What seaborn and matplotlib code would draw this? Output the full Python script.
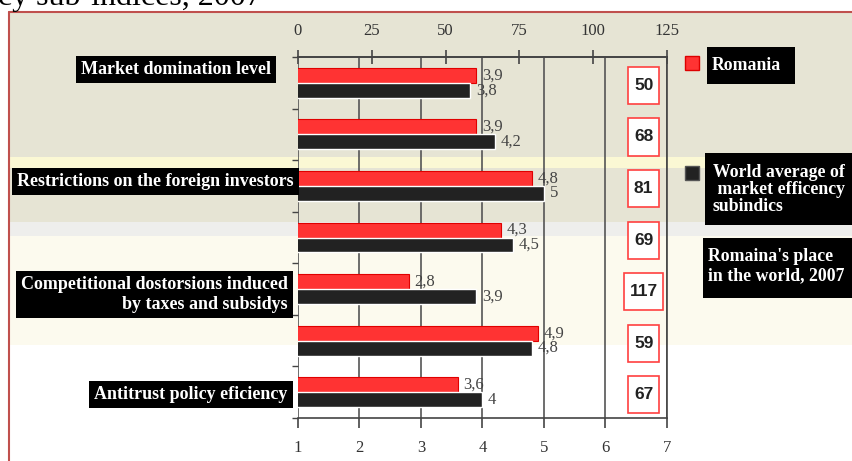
import matplotlib.pyplot as plt
import matplotlib.patches as mpatches
import matplotlib.transforms as mtransforms
import numpy as np
import pandas as pd
import seaborn as sns

W, H = 853, 461

# data
indicators = [
    "Market domination level",
    None,
    "Restrictions on the foreign investors",
    None,
    "Competitional dostorsions induced\nby taxes and subsidys",
    None,
    "Antitrust policy eficiency",
]
romania = [3.9, 3.9, 4.8, 4.3, 2.8, 4.9, 3.6]
world = [3.8, 4.2, 5.0, 4.5, 3.9, 4.8, 4.0]
ranks = [50, 68, 81, 69, 117, 59, 67]
bottom_ticks = [1, 2, 3, 4, 5, 6, 7]
top_ticks = [0, 25, 50, 75, 100, 125]
legend_labels = ["Romania", "World average of\n market efficency\nsubindics",
                 "Romaina's place\nin the world, 2007"]

RED = "#ff3333"
BLACK = "#222222"
AXC = "#444444"

df = pd.DataFrame({
    "row": list(range(len(romania))) * 2,
    "series": ["Romania"] * len(romania) + ["World"] * len(world),
    "value": romania + world,
})

sns.set_theme(style="white")
plt.rcParams["font.family"] = ["Liberation Serif", "DejaVu Serif"]

fig = plt.figure(figsize=(W / 100, H / 100), dpi=100)

# background bands + frame, drawn in pixel coordinates
bg = fig.add_axes([0, 0, 1, 1], zorder=-10)
bg.set_xlim(0, W)
bg.set_ylim(H, 0)
bg.axis("off")
bands = [(0, 12, "#ffffff"), (12, 157, "#e6e4d4"), (157, 168, "#fbf8d4"),
         (168, 222, "#e6e4d4"), (222, 236, "#eeeeec"), (236, 345, "#fcfaee"),
         (345, H, "#ffffff")]
for y0, y1, c in bands:
    bg.axhspan(y0, y1, color=c, lw=0)
bg.axvspan(0, 9, color="white", lw=0)
bg.plot([9, 9], [12, H], color="#c0504d", lw=1.5)
bg.plot([9, W], [12, 12], color="#c0504d", lw=1.5)
# title, cut by the top edge as in the source screenshot
bg.text(262, 5, "Market efficiency sub-indices, 2007", ha="right", va="baseline",
        fontsize=23, color="black")

# main plot
ax = fig.add_axes([298 / W, 43 / H, 369 / W, 361 / H])
ax.patch.set_alpha(0)
sns.barplot(data=df, x="value", y="row", hue="series", orient="h",
            palette=[RED, BLACK], width=0.58, saturation=1, legend=False, ax=ax)
ax.set_xlim(1, 7)
ax.set_ylim(len(romania) - 0.5, -0.5)

for bar in ax.containers[0]:
    bar.set_edgecolor("#e00000")
    bar.set_linewidth(0.8)

for cont, vals in zip(ax.containers, [romania, world]):
    ax.bar_label(cont, labels=[f"{v:g}".replace(".", ",") for v in vals],
                 padding=4, fontsize=12, color=AXC)

ax.set_xticks(bottom_ticks)
ax.set_yticks(np.arange(-0.5, len(romania), 1))
ax.set_yticklabels([])
ax.set_xlabel("")
ax.set_ylabel("")
ax.grid(axis="x", color="#555555", lw=1.2)
ax.grid(axis="y", visible=False)
ax.set_axisbelow(True)
ax.spines["left"].set_visible(False)
for s in ["top", "bottom", "right"]:
    ax.spines[s].set_color(AXC)
    ax.spines[s].set_linewidth(1.2)
ax.tick_params(axis="x", direction="out", length=7, width=1.2, color=AXC,
               labelsize=12, labelcolor="#333333", pad=9, bottom=True)
ax.tick_params(axis="y", direction="out", length=4, width=1, color=AXC, left=True)

top = ax.secondary_xaxis("top", functions=(lambda x: (x - 1) * 125 / 6,
                                           lambda t: t * 6 / 125 + 1))
top.set_xticks(top_ticks)
top.tick_params(direction="inout", length=10, width=1.2, color=AXC,
                labelsize=12, labelcolor="#333333", pad=8)
top.spines["top"].set_color(AXC)

# rank boxes
for i, r in enumerate(ranks):
    w = 0.5 if r < 100 else 0.63
    ax.add_patch(mpatches.Rectangle((6.62 - w / 2, i - 0.31), w, 0.72,
                                    fc="white", ec="#ff4040", lw=1.2, zorder=3))
    ax.text(6.62, i + 0.05, str(r), ha="center", va="center", zorder=4,
            fontfamily="Liberation Sans", fontweight="bold", fontsize=12.5,
            color=BLACK)

# category labels in black boxes
trans = mtransforms.blended_transform_factory(ax.transAxes, ax.transData)
label_dx = [-0.072, 0, -0.012, 0, -0.028, 0, -0.028]
label_dy = [-0.26, 0, -0.08, 0, 0.1, 0, 0.05]
for i, name in enumerate(indicators):
    if not name:
        continue
    ax.text(label_dx[i], i + label_dy[i], name, transform=trans, ha="right",
            va="center", multialignment="right", color="white",
            fontweight="bold", fontsize=13, clip_on=False, zorder=5,
            linespacing=1.25,
            bbox=dict(boxstyle="square,pad=0.28", fc="black", ec="none"))

# legend
bg.add_patch(mpatches.Rectangle((685, 56), 14, 14, fc=RED, ec="#dd0000", lw=1))
bg.add_patch(mpatches.Rectangle((685, 166), 14, 14, fc=BLACK, ec="#555555", lw=1))
boxes = [(707, 47, 88, 37), (705, 153, 160, 72), (703, 238, 160, 60)]
text_pos = [(712, 66, 1.2), (713, 189, 1.0), (708, 266, 1.15)]
for (bx, by, bw, bh), (tx, ty, ls), lab in zip(boxes, text_pos, legend_labels):
    bg.add_patch(mpatches.Rectangle((bx, by), bw, bh, fc="black", ec="none"))
    bg.text(tx, ty, lab, ha="left", va="center", color="white",
            fontweight="bold", fontsize=12.8, linespacing=ls)

fig.savefig("out.png", dpi=100)
